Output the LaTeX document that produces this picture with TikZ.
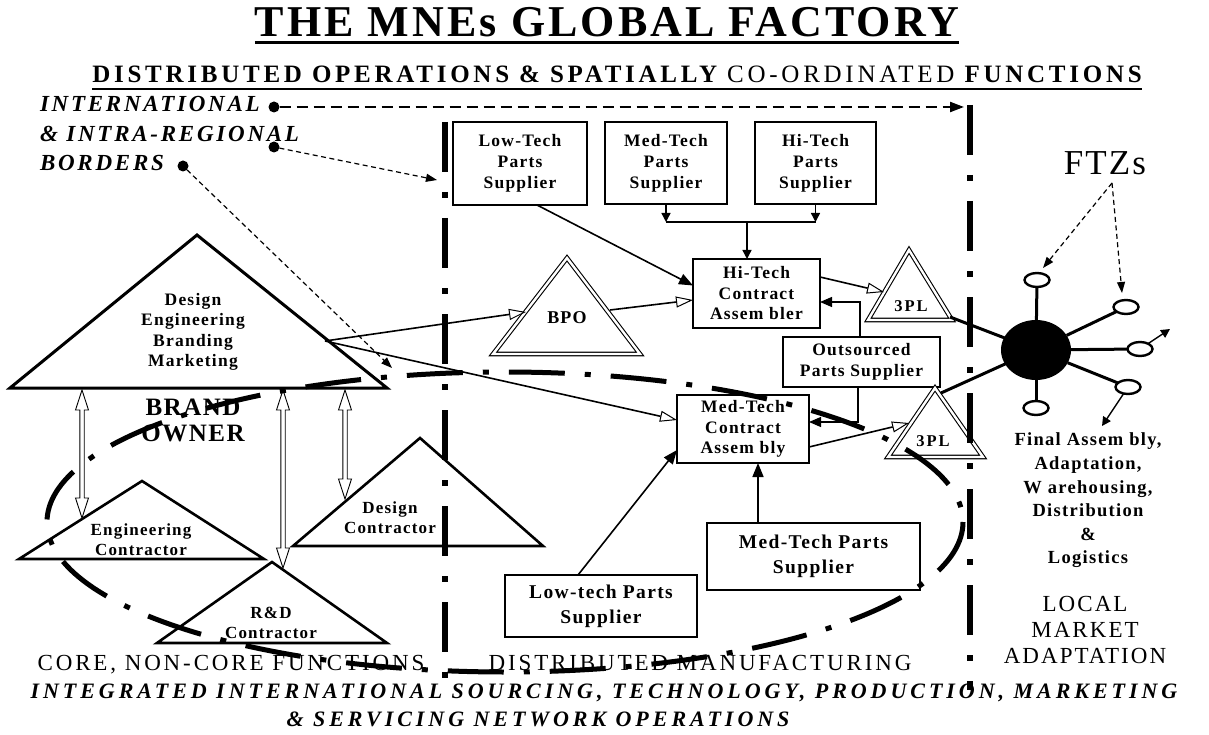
\documentclass[tikz,border=0pt]{standalone}
\usepackage{fontspec}
\setmainfont{Liberation Serif}
\newfontfamily\fTitle[LetterSpace=7]{Liberation Serif}
\newfontfamily\fSub[LetterSpace=15]{Liberation Serif}
\newfontfamily\fBox[LetterSpace=7]{Liberation Serif}
\newfontfamily\fTri[LetterSpace=7]{Liberation Serif}
\newfontfamily\fIt[LetterSpace=12]{Liberation Serif}
\newfontfamily\fOut[LetterSpace=12.5]{Liberation Serif}
\newfontfamily\fLoc[LetterSpace=9]{Liberation Serif}
\newfontfamily\fBot[LetterSpace=18]{Liberation Serif}
\newfontfamily\fBig[LetterSpace=6]{Liberation Serif}
\newfontfamily\fPL[LetterSpace=12]{Liberation Serif}
\usetikzlibrary{arrows.meta,shapes.geometric}
\newcommand\dblarr[3]{\draw[dbl] (#1,#2) -- ++(6.5,20) -- ++(-4.3,0) -- (#1+2.2,#3-20) -- ++(4.3,0) -- (#1,#3) -- ++(-6.5,-20) -- ++(4.3,0) -- (#1-2.2,#2+20) -- ++(-4.3,0) -- cycle;}
\begin{document}
\begin{tikzpicture}[x=1pt,y=-1pt,
 every node/.style={inner sep=0pt,outer sep=0pt},
 box/.style={draw,line width=1.4pt,align=center,font=\fBox\bfseries\fontsize{17.5}{20.8}\selectfont},
 midbox/.style={draw,line width=1.4pt,align=center,font=\fTri\bfseries\fontsize{17.5}{20.5}\selectfont},
 bigbox/.style={draw,line width=1.4pt,align=center,font=\fBox\bfseries\fontsize{19.5}{25}\selectfont},
 tri/.style={line width=2.6pt,line join=miter},
 dtri/.style={double,double distance=2.4pt,line width=1.1pt,line join=miter},
 tritext/.style={align=center,font=\fBox\bfseries\fontsize{17}{20}\selectfont},
 arr/.style={line width=1.6pt,-{Triangle[length=14pt,width=11pt]}},
 thinarr/.style={line width=1.2pt,-{Triangle[length=12pt,width=10pt]}},
 smarr/.style={line width=1.4pt,-{Triangle[length=9pt,width=9pt]}},
 oarr/.style={line width=1.6pt,-{Triangle[open,length=17pt,width=11pt,fill=white,line width=1pt]}},
 vline/.style={line width=6pt,dash pattern=on 50pt off 20pt on 6pt off 20pt},
 ell/.style={line width=5pt,dash pattern=on 56pt off 20pt on 6pt off 20pt},
 dot/.style={circle,fill=black,minimum size=11pt},
 bdash/.style={line width=2.2pt,dash pattern=on 11pt off 6pt,-{Triangle[length=14pt,width=10pt]}},
 tdash/.style={line width=1.2pt,dash pattern=on 5pt off 3.5pt,-{Triangle[length=11pt,width=8pt]}},
 spoke/.style={line width=3pt},
 small/.style={ellipse,draw,line width=2.4pt,fill=white,minimum width=25pt,minimum height=14pt},
 dbl/.style={line width=0.9pt,fill=white},
 itlabel/.style={anchor=base west,font=\fIt\bfseries\itshape\fontsize{23}{26}\selectfont}
]
\fill[white] (0,0) rectangle (1209,735);
\path[use as bounding box] (0,0) rectangle (1209,735);

% titles
\node[anchor=base,font=\fTitle\bfseries\fontsize{44}{48}\selectfont] (title) at (607,37) {THE MNEs GLOBAL FACTORY};
\draw[line width=3pt] ([yshift=-6pt]title.base west) -- ([yshift=-6pt]title.base east);
\node[anchor=base,font=\fSub\bfseries\fontsize{25}{28}\selectfont] (sub) at (617,83) {DISTRIBUTED OPERATIONS \& SPATIALLY {\mdseries CO-ORDINATED} FUNCTIONS};
\draw[line width=2.5pt] ([yshift=-6pt]sub.base west) -- ([yshift=-6pt]sub.base east);

% borders labels
\node[itlabel] (intl) at (40,112) {INTERNATIONAL};
\node[itlabel] (intra) at (40,142) {\& INTRA-REGIONAL};
\node[itlabel] (bord) at (40,171) {BORDERS};
\node[dot] (p1) at (274,107) {};
\node[dot] (p2) at (274,147) {};
\node[dot] (p3) at (183,166) {};
\coordinate (q1) at (964,107);
\coordinate (q2) at (437,180);
\coordinate (q3) at (392,368);
\draw[bdash] (p1) -- (q1);
\draw[tdash] (p2) -- (q2);
\draw[tdash] (p3) -- (q3);

% supplier boxes
\node[box,minimum width=134pt,minimum height=83pt] (lt) at (520,163.5) {Low-Tech\\Parts\\Supplier};
\node[box,minimum width=122pt,minimum height=82pt] (mt) at (666,163) {Med-Tech\\Parts\\Supplier};
\node[box,minimum width=121pt,minimum height=82pt] (ht) at (815.5,163) {Hi-Tech\\Parts\\Supplier};
\node[midbox,minimum width=127pt,minimum height=69pt] (htca) at (756.5,293.5) {Hi-Tech\\Contract\\Assem bler};
\node[midbox,minimum width=132pt,minimum height=68pt] (mtca) at (743,429) {Med-Tech\\Contract\\Assem bly};
\node[midbox,minimum width=157pt,minimum height=50pt] (osp) at (861.5,362) {Outsourced\\Parts Supplier};
\node[bigbox,minimum width=213pt,minimum height=67pt] (mps) at (813.5,556.5) {Med-Tech Parts\\Supplier};
\node[bigbox,minimum width=192pt,minimum height=62pt] (lps) at (601,606) {Low-tech Parts\\Supplier};

% triangles
\coordinate (B1) at (10,388); \coordinate (B2) at (197,235); \coordinate (B3) at (387,388);
\draw[tri,line width=3pt] (B1) -- (B2) -- (B3) -- cycle;
\node[align=center,font=\fTri\bfseries\fontsize{17.5}{20.3}\selectfont] (btext) at (193,332) {Design\\Engineering\\Branding\\Marketing};
\node[align=center,font=\fBig\bfseries\fontsize{25}{26}\selectfont] (brand) at (193,420) {BRAND\\OWNER};

\coordinate (E1) at (19,559); \coordinate (E2) at (142,481); \coordinate (E3) at (264,559);
\draw[tri] (E1) -- (E2) -- (E3) -- cycle;
\node[tritext] (etext) at (141,540) {Engineering\\Contractor};

\coordinate (D1) at (293,546); \coordinate (D2) at (420,438); \coordinate (D3) at (543,546);
\draw[tri] (D1) -- (D2) -- (D3) -- cycle;
\node[tritext] (dtext) at (390,518) {Design\\Contractor};

\coordinate (R1) at (157,643); \coordinate (R2) at (272,562); \coordinate (R3) at (387,643);
\draw[tri] (R1) -- (R2) -- (R3) -- cycle;
\node[tritext] (rtext) at (271,623) {R\&D\\Contractor};

\coordinate (P1) at (493,354); \coordinate (P2) at (567,258); \coordinate (P3) at (640,354);
\draw[dtri] (P1) -- (P2) -- (P3) -- cycle;
\node[font=\fBig\bfseries\fontsize{18}{20}\selectfont] (bpo) at (567,318) {BPO};

\coordinate (U1) at (868,320); \coordinate (U2) at (909,250); \coordinate (U3) at (952,320);
\draw[dtri] (U1) -- (U2) -- (U3) -- cycle;
\node[font=\fPL\bfseries\fontsize{16.5}{18}\selectfont] (tpl1) at (911,306) {3PL};

\coordinate (L1) at (888,457); \coordinate (L2) at (935,388); \coordinate (L3) at (983,457);
\draw[dtri] (L1) -- (L2) -- (L3) -- cycle;
\node[font=\fPL\bfseries\fontsize{16.5}{18}\selectfont] (tpl2) at (933,441) {3PL};

% hollow double arrows
\dblarr{82}{390}{518}
\dblarr{283}{390}{568}
\dblarr{345}{390}{499}

% connectors
\coordinate (bt) at (325,341);
\coordinate (bpoL) at (526,312);
\coordinate (bpoR) at (610,310);
\draw[oarr] (bt) -- (bpoL);
\draw[oarr] (bt) -- ([yshift=9pt]mtca.west);
\draw[oarr] (bpoR) -- ([yshift=-6.5pt]htca.west);
\draw[arr] ([xshift=17pt]lt.south) -- ([yshift=8pt]htca.west);

\coordinate (jL) at (666,222); \coordinate (jR) at (815.5,222); \coordinate (jM) at (747,222);
\draw[smarr] (mt.south) -- (jL);
\draw[smarr] (ht.south) -- (jR);
\draw[line width=1.4pt] (jL) -- (jR);
\draw[smarr] (jM) -- ([xshift=-9.5pt]htca.north);

\coordinate (u3in) at (884,292);
\draw[oarr] ([yshift=16.5pt]htca.east) -- (u3in);
\draw[thinarr] ([xshift=-1.5pt]osp.north) |- ([yshift=-8.5pt]htca.east);
\draw[thinarr] ([xshift=-3.5pt]osp.south) |- ([yshift=7pt]mtca.east);
\coordinate (l3in) at (909,423);
\draw[oarr] ([yshift=-18pt]mtca.east) -- (l3in);
\draw[arr] ([xshift=-55.5pt]mps.north) -- ([xshift=15pt]mtca.south);
\draw[arr] ([xshift=-23pt]lps.north) -- ([yshift=-21pt]mtca.west);

% hub
\node[ellipse,fill=black,minimum width=70pt,minimum height=60pt] (hub) at (1036,350) {};
\coordinate (u3c) at (950,317);
\coordinate (l3c) at (941,393);
\draw[spoke] (u3c) -- (hub.center);
\draw[spoke] (l3c) -- (hub.center);
\node[small] (e1) at (1037,280) {};
\node[small] (e2) at (1126,307) {};
\node[small] (e3) at (1140,349) {};
\node[small] (e4) at (1128,387) {};
\node[small] (e5) at (1036,408) {};
\draw[spoke] (hub) -- (e1);
\draw[spoke] (hub) -- (e2);
\draw[spoke] (hub) -- (e3);
\draw[spoke] (hub) -- (e4);
\draw[spoke] (hub) -- (e5);
\coordinate (a3) at (1170,329);
\coordinate (a4) at (1102,426);
\draw[smarr] (e3) -- (a3);
\draw[smarr] (e4) -- (a4);

\node[font=\fBig\fontsize{35}{36}\selectfont] (ftz) at (1105,163) {FTZs};
\coordinate (fo) at (1112,183);
\coordinate (f1) at (1043,268);
\coordinate (f2) at (1122,293);
\draw[tdash] (fo) -- (f1);
\draw[tdash] (fo) -- (f2);

% right text
\node[anchor=north,align=center,font=\fBox\bfseries\fontsize{18.5}{23.6}\selectfont] (fin) at (1088,433) {Final Assem bly,\\Adaptation,\\W arehousing,\\Distribution\\\&\\Logistics};
\node[anchor=north,align=center,font=\fLoc\fontsize{23}{26}\selectfont] (loc) at (1085,596) {LOCAL\\MARKET\\ADAPTATION};

% bottom texts
\node[anchor=base,font=\fOut\fontsize{23}{24}\selectfont] (core) at (231,670) {CORE, NON-CORE FUNCTIONS};
\node[anchor=base,font=\fOut\fontsize{23}{24}\selectfont] (dm) at (700,670) {DISTRIBUTED MANUFACTURING};
\node[anchor=base,font=\fBot\bfseries\itshape\fontsize{22}{24}\selectfont] (int1) at (604,698) {INTEGRATED INTERNATIONAL SOURCING, TECHNOLOGY, PRODUCTION, MARKETING};
\node[anchor=base,font=\fBot\bfseries\itshape\fontsize{22}{24}\selectfont] (int2) at (538,726) {\& SERVICING NETWORK OPERATIONS};

% borders and network
\coordinate (v1a) at (445,122); \coordinate (v1b) at (445,682);
\coordinate (v2a) at (970,105); \coordinate (v2b) at (970,690);
\draw[vline] (v1a) -- (v1b);
\draw[vline] (v2a) -- (v2b);
\draw[ell] (505,522) ellipse [x radius=458, y radius=150];
\end{tikzpicture}
\end{document}
